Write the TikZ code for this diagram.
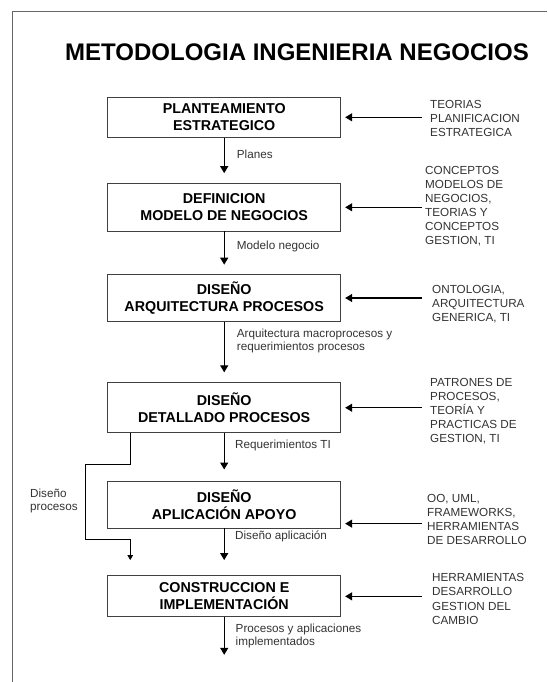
\documentclass[tikz,border=0pt]{standalone}
\usepackage{fontspec}
\setmainfont{Liberation Sans}
\usetikzlibrary{arrows.meta,positioning}

\begin{document}
\begin{tikzpicture}[
		x=1pt, y=-1pt,
		node distance=45pt,
		fase/.style={draw=black!75, line width=0.9pt, fill=white, minimum width=233pt, align=center, inner sep=2pt, font=\fontsize{14.3}{17}\selectfont\bfseries},
		fuente/.style={anchor=west, align=left, inner sep=0pt, text=black!80, font=\fontsize{11.7}{14.1}\selectfont},
		etiq/.style={anchor=west, align=left, inner sep=0pt, text=black!80, font=\fontsize{11.7}{13.5}\selectfont},
		flujo/.style={line width=1.2pt, -{Triangle[length=7pt,width=8pt]}},
		lateral/.style={line width=0.9pt, -{Triangle[length=5pt,width=5.5pt]}},
	]
		\useasboundingbox (0,0) rectangle (547,682);
		% marco
		\draw[black!60, line width=0.8pt] (12.3,682) -- (12.3,11.7) -- (547,11.7);
		\node (titulo) at (297,52.3) {\fontsize{24}{28}\selectfont\bfseries METODOLOGIA INGENIERIA NEGOCIOS};
		
		\node (b1) [fase, minimum height=40.5pt] at (224.2,117.3) {PLANTEAMIENTO\\ESTRATEGICO};
		\node (b2) [fase, minimum height=47.3pt, below=45.2pt of b1] {DEFINICION\\MODELO DE NEGOCIOS};
		\node (b3) [fase, minimum height=47.7pt, below=42.3pt of b2] {DISEÑO\\ARQUITECTURA PROCESOS};
		\node (b4) [fase, minimum height=50pt, below=60pt of b3] {DISEÑO\\DETALLADO PROCESOS};
		\node (b5) [fase, minimum height=47pt, below=47.3pt of b4] {DISEÑO\\APLICACIÓN APOYO};
		\node (b6) [fase, minimum height=41pt, below=47pt of b5] {CONSTRUCCION E\\IMPLEMENTACIÓN};
		\coordinate [below=37.5pt of b6] (fin);
		\coordinate (dpfin) at ([xshift=23pt, yshift=15.3pt]b6.north west);
		
		\node (t1) [fuente] at (430,118.4) {TEORIAS\\PLANIFICACION\\ESTRATEGICA};
		\node (t2) [fuente] at (425,206) {CONCEPTOS\\MODELOS DE\\NEGOCIOS,\\TEORIAS Y\\CONCEPTOS\\GESTION, TI};
		\node (t3) [fuente] at (432,304) {ONTOLOGIA,\\ARQUITECTURA\\GENERICA, TI};
		\node (t4) [fuente] at (430,411) {PATRONES DE\\PROCESOS,\\TEORÍA Y\\PRACTICAS DE\\GESTION, TI};
		\node (t5) [fuente] at (427,519.5) {OO, UML,\\FRAMEWORKS,\\HERRAMIENTAS\\DE DESARROLLO};
		\node (t6) [fuente] at (432,599) {HERRAMIENTAS\\DESARROLLO\\GESTION DEL\\CAMBIO};
		
		\node (l1) [etiq] at (236.7,154) {Planes};
		\node (l2) [etiq] at (236.7,246.7) {Modelo negocio};
		\node (l3) [etiq] at (236.7,341) {Arquitectura macroprocesos y\\requerimientos procesos};
		\node (l4) [etiq] at (235,445) {Requerimientos TI};
		\node (l5) [etiq] at (235,536.7) {Diseño aplicación};
		\node (l6) [etiq] at (235.5,636) {Procesos y aplicaciones\\implementados};
		\node (ldp) [etiq] at (30,501) {Diseño\\procesos};
		
		\draw[flujo, shorten >=10pt] (b1) -- (b2);
		\draw[flujo, shorten >=9pt] (b2) -- (b3);
		\draw[flujo, shorten >=10pt] (b3) -- (b4);
		\draw[flujo, shorten >=11pt] (b4) -- (b5);
		\draw[flujo, shorten >=15.3pt] (b5) -- (b6);
		\draw[flujo] (b6) -- (fin);
		
		\draw[flujo, shorten >=4pt] ([xshift=-8.3pt]t1.west |- b1.east) -- (b1.east);
		\draw[flujo, shorten >=4pt] ([xshift=-3.3pt]t2.west |- b2.east) -- (b2.east);
		\draw[flujo, shorten >=4pt] ([xshift=-10.3pt]t3.west |- b3.east) -- (b3.east);
		\draw[flujo, shorten >=4pt] ([xshift=-8.3pt]t4.west |- b4.east) -- (b4.east);
		\draw[flujo, shorten >=4pt] ([xshift=-5.3pt, yshift=-19.2pt]t5.west |- b5.east) -- ([yshift=-19.2pt]b5.east);
		\draw[flujo, shorten >=4pt] ([xshift=-10.3pt]t6.west |- b6.east) -- (b6.east);
		
		\draw[lateral] ([xshift=23pt]b4.south west) -- ++(0,31.7) -| ++(-44.7,75) -| (dpfin);
	\end{tikzpicture}
\end{document}
